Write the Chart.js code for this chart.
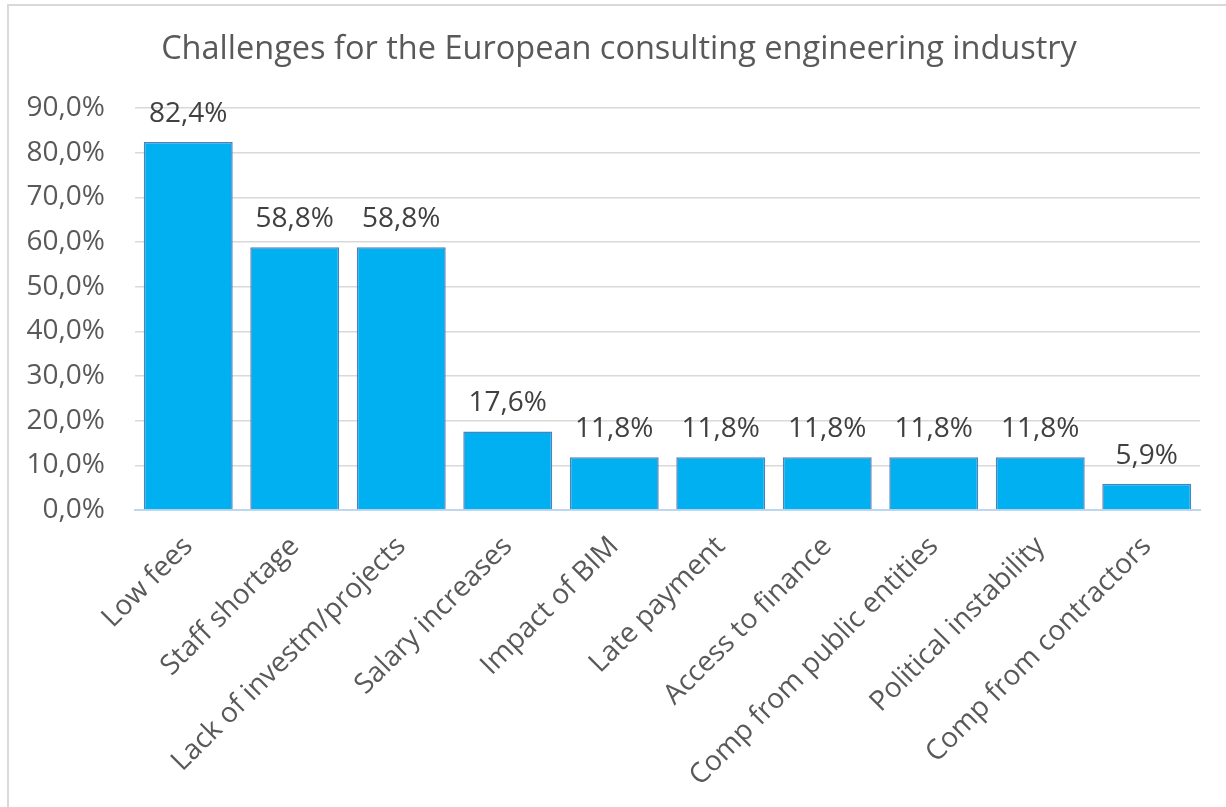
<!DOCTYPE html>
<html>
<head>
<meta charset="utf-8">
<script src="https://cdn.jsdelivr.net/npm/chart.js@4"></script>
<style>
  html, body { margin: 0; padding: 0; background: #ffffff; overflow: hidden; }
  #wrap { position: relative; width: 1226px; height: 807px; }
  #frame {
    position: absolute; left: 7px; top: 4px; width: 1400px; height: 1000px;
    border: 2px solid #d9d9d9; box-sizing: border-box; pointer-events: none;
  }
  canvas { position: absolute; left: 0; top: 0; }
</style>
</head>
<body>
<div id="wrap">
  <div id="frame"></div>
  <canvas id="chart" width="1226" height="807"></canvas>
</div>
<script>
const categories = [
  'Low fees', 'Staff shortage', 'Lack of investm/projects', 'Salary increases',
  'Impact of BIM', 'Late payment', 'Access to finance', 'Comp from public entities',
  'Political instability', 'Comp from contractors'
];
const shares = [82.4, 58.8, 58.8, 17.6, 11.8, 11.8, 11.8, 11.8, 11.8, 5.9];
const titleText = 'Challenges for the European consulting engineering industry';

const FONT = "'Open Sans', 'DejaVu Sans', sans-serif";
const fmt = v => v.toFixed(1).replace('.', ',') + '%';

// Title centred on the framed panel (frame spans x = 8 .. beyond the right edge)
const panelTitle = {
  id: 'panelTitle',
  afterDraw(chart) {
    const ctx = chart.ctx;
    ctx.save();
    ctx.font = '32.5px ' + FONT;
    ctx.fillStyle = '#595959';
    ctx.textAlign = 'center';
    ctx.textBaseline = 'middle';
    ctx.fillText(titleText, 619, 50);
    ctx.restore();
  }
};

// Writes each bar's value above it, positioned from the bar element itself
const valueLabels = {
  id: 'valueLabels',
  afterDatasetsDraw(chart) {
    const ctx = chart.ctx;
    const meta = chart.getDatasetMeta(0);
    ctx.save();
    ctx.font = '28px ' + FONT;
    ctx.fillStyle = '#404040';
    ctx.textAlign = 'center';
    ctx.textBaseline = 'alphabetic';
    meta.data.forEach((bar, i) => {
      ctx.fillText(fmt(chart.data.datasets[0].data[i]), bar.x, bar.y - 20);
    });
    ctx.restore();
  }
};

new Chart(document.getElementById('chart'), {
  type: 'bar',
  data: {
    labels: categories,
    datasets: [{
      data: shares,
      backgroundColor: '#00b0f0',
      borderColor: '#4f81bd',
      borderWidth: 1.5,
      barPercentage: 0.835,
      categoryPercentage: 1.0
    }]
  },
  options: {
    responsive: false,
    animation: false,
    devicePixelRatio: 1,
    layout: { padding: { left: 0, right: 26, top: 108, bottom: 0 } },
    plugins: {
      legend: { display: false },
      tooltip: { enabled: false },
      title: { display: false }
    },
    scales: {
      x: {
        grid: { display: false, drawTicks: false },
        border: { display: true, color: '#bdd7ee', width: 2 },
        ticks: {
          color: '#595959',
          font: { family: FONT, size: 28 },
          minRotation: 45,
          maxRotation: 45,
          autoSkip: false,
          padding: 20
        },
        afterFit(scale) { scale.height = 297; }
      },
      y: {
        min: 0,
        max: 90,
        grid: { color: '#d9d9d9', lineWidth: 1.5, drawTicks: false },
        border: { display: false },
        ticks: {
          stepSize: 10,
          color: '#595959',
          font: { family: FONT, size: 28 },
          padding: 30,
          callback: v => fmt(v)
        },
        afterFit(scale) { scale.width = 135; }
      }
    }
  },
  plugins: [valueLabels, panelTitle]
});
</script>
</body>
</html>
